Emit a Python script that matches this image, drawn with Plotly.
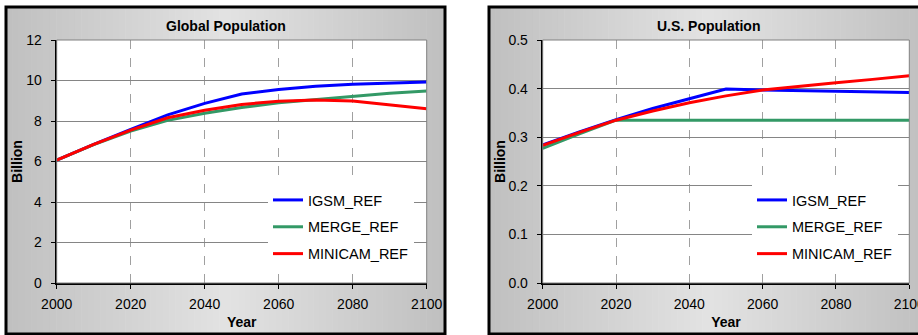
import plotly.graph_objects as go

years = [2000, 2010, 2020, 2030, 2040, 2050, 2060, 2070, 2080, 2090, 2100]

global_igsm = [6.07, 6.85, 7.58, 8.30, 8.87, 9.33, 9.56, 9.72, 9.82, 9.88, 9.93]
global_merge = [6.07, 6.83, 7.50, 8.03, 8.38, 8.67, 8.90, 9.06, 9.23, 9.37, 9.48]
global_minicam = [6.07, 6.85, 7.55, 8.16, 8.53, 8.82, 8.98, 9.04, 8.99, 8.80, 8.60]

us_igsm = [0.284, 0.311, 0.336, 0.359, 0.379, 0.399, 0.397, 0.396, 0.395, 0.394, 0.392]
us_merge = [0.277, 0.307, 0.335, 0.335, 0.335, 0.335, 0.335, 0.335, 0.335, 0.335, 0.335]
us_minicam = [0.283, 0.310, 0.335, 0.354, 0.371, 0.385, 0.397, 0.405, 0.412, 0.419, 0.4265]

series_names = ["IGSM_REF", "MERGE_REF", "MINICAM_REF"]
series_colors = ["#0000FF", "#339966", "#FF0000"]
panel_titles = ["Global Population", "U.S. Population"]

W, H = 918, 335
FONT = "Liberation Sans, Arial, sans-serif"

fig = go.Figure()

for name, col, vals in zip(series_names, series_colors, [global_igsm, global_merge, global_minicam]):
    fig.add_trace(go.Scatter(x=years, y=vals, mode="lines", name=name, legendgroup=name,
                             line=dict(color=col, width=3), xaxis="x", yaxis="y", legend="legend"))
for name, col, vals in zip(series_names, series_colors, [us_igsm, us_merge, us_minicam]):
    fig.add_trace(go.Scatter(x=years, y=vals, mode="lines", name=name, legendgroup=name + "2",
                             line=dict(color=col, width=3), xaxis="x2", yaxis="y2", legend="legend2"))

def px(x):
    return x / W

def py(y):
    return (H - y) / H

panels = [(6, 445), (489, 928)]
plot_x = [(56.7, 426.7), (542.7, 909.3)]
plot_top, plot_bot = 40, 283

shapes = []
N = 70
def gray(t):
    d = abs(t - 0.5) * 2
    v = int(round(0xE2 - (0xE2 - 0xC0) * d))
    return f"rgb({v},{v},{v})"

for (x0, x1) in panels:
    for i in range(N):
        a = x0 + (x1 - x0) * i / N
        b = x0 + (x1 - x0) * (i + 1) / N + 0.6
        shapes.append(dict(type="rect", xref="paper", yref="paper", x0=px(a), x1=px(b),
                           y0=py(334), y1=py(7), fillcolor=gray((i + 0.5) / N),
                           line=dict(width=0), layer="below"))
    shapes.append(dict(type="rect", xref="paper", yref="paper", x0=px(x0), x1=px(x1),
                       y0=py(334), y1=py(7), line=dict(color="black", width=3),
                       fillcolor="rgba(0,0,0,0)", layer="above"))

for xa, ya in [("x", "y"), ("x2", "y2")]:
    shapes.append(dict(type="rect", xref=xa + " domain", yref=ya + " domain", x0=0, x1=1, y0=0, y1=1,
                       line=dict(width=0), fillcolor="white", layer="below"))
    shapes.append(dict(type="rect", xref=xa + " domain", yref=ya + " domain", x0=0, x1=1, y0=0, y1=1,
                       line=dict(color="#808080", width=1), fillcolor="rgba(0,0,0,0)", layer="above"))

tickfont = dict(family=FONT, size=14, color="black")
titlefont = dict(family=FONT, size=14, color="black", weight="bold")

def xaxis_cfg(domain, anchor):
    return dict(domain=domain, anchor=anchor, range=[2000, 2100], dtick=20, tick0=2000,
                showgrid=True, gridcolor="#A0A0A0", griddash="dash", gridwidth=1,
                showline=True, linecolor="black", linewidth=2, ticks="outside", ticklen=4,
                tickcolor="black", tickfont=tickfont, zeroline=False, fixedrange=True,
                ticklabelstandoff=3, automargin=False, ticklabeloverflow="allow",
                title=dict(text="Year", font=titlefont, standoff=6))

def yaxis_cfg(domain, anchor, rng, dtick, fmt):
    return dict(domain=domain, anchor=anchor, range=rng, dtick=dtick, tick0=0,
                showgrid=True, gridcolor="#858585", gridwidth=1, tickformat=fmt,
                showline=True, linecolor="black", linewidth=2, ticks="outside", ticklen=4,
                tickcolor="black", tickfont=tickfont, zeroline=False, fixedrange=True,
                ticklabelstandoff=6, automargin=False, ticklabeloverflow="allow",
                title=dict(text="Billion", font=titlefont, standoff=0))

ydom = [py(plot_bot), py(plot_top)]

annotations = []
for (x0, x1), t in zip(panels, panel_titles):
    annotations.append(dict(text=f"<b>{t}</b>", xref="paper", yref="paper", x=px((x0 + x1) / 2),
                            y=py(26), xanchor="center", yanchor="middle", showarrow=False,
                            font=dict(family=FONT, size=14, color="black")))

legend_common = dict(bgcolor="white", borderwidth=0, font=dict(family=FONT, size=14.5, color="black"),
                     tracegroupgap=5, xanchor="left", yanchor="top", itemwidth=30,
                     entrywidth=112, entrywidthmode="pixels")

fig.update_layout(
    width=W, height=H, margin=dict(l=0, r=0, t=0, b=0, autoexpand=False),
    paper_bgcolor="white", plot_bgcolor="white",
    showlegend=True,
    xaxis=xaxis_cfg([px(plot_x[0][0]), px(plot_x[0][1])], "y"),
    yaxis=yaxis_cfg(ydom, "x", [0, 12], 2, "d"),
    xaxis2=xaxis_cfg([px(plot_x[1][0]), px(plot_x[1][1])], "y2"),
    yaxis2=yaxis_cfg(ydom, "x2", [0, 0.5], 0.1, ".1f"),
    legend=dict(x=px(268), y=py(184), **legend_common),
    legend2=dict(x=px(752), y=py(184), **legend_common),
    shapes=shapes, annotations=annotations,
    font=dict(family=FONT),
)

fig.write_html("out.html")
